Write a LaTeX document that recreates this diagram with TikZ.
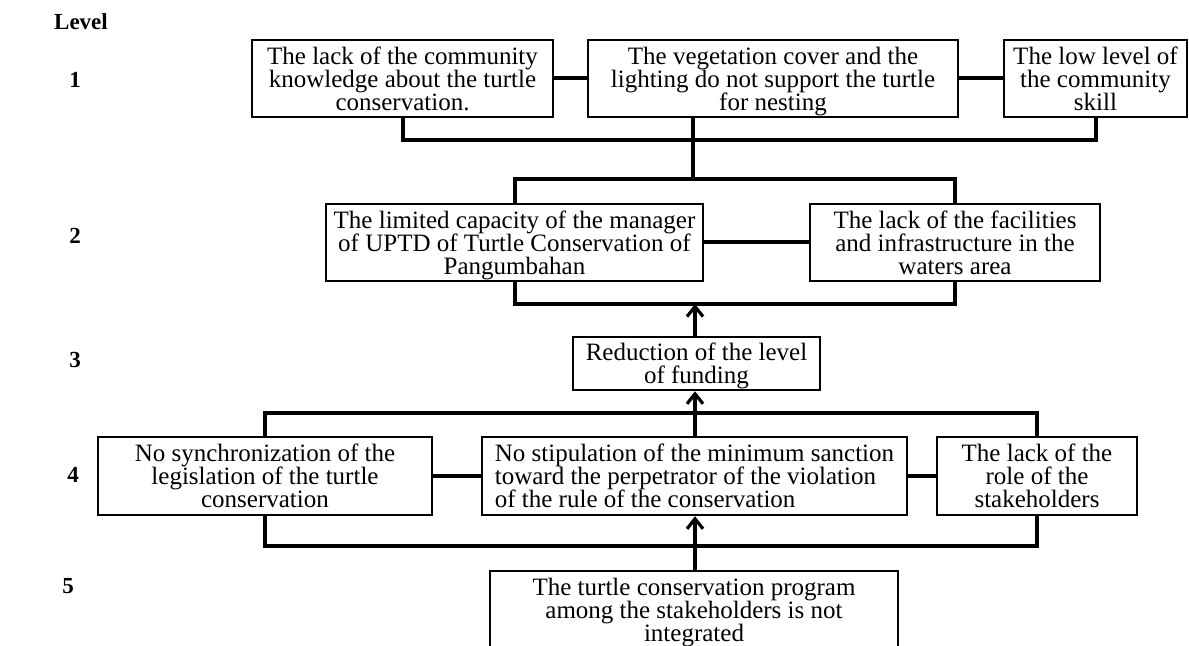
\documentclass[tikz,border=0pt]{standalone}
\usepackage{fontspec}
\setmainfont{Liberation Serif}
\usetikzlibrary{arrows.meta}

% fixed struts so every box places its lines at the same heights
\newcommand{\bxtop}{\rule{0pt}{12pt}}
\newcommand{\bxbot}{\rule[-3pt]{0pt}{3pt}}

\begin{document}
\begin{tikzpicture}[x=0.5pt,y=-0.5pt,
  box/.style={draw, line width=1.25pt, inner sep=0pt, align=center,
    font={\fontsize{12.5pt}{11.5pt}\selectfont}},
  wd/.style={minimum width=#1*0.5pt},
  ht/.style={minimum height=#1*0.5pt},
  link/.style={line width=2pt},
  uparrow/.style={line width=2pt, -{Straight Barb[length=5pt,width=8pt,line width=1.6pt]}},
  lvl/.style={font={\fontsize{11.5pt}{13pt}\selectfont\bfseries}}]

\useasboundingbox[fill=white] (0,0) rectangle (1189,646);

% level labels
\node[lvl] (lvlhead) at (81,22) {Level};
\node[lvl] (lv1) at (75,80) {1};
\node[lvl] (lv2) at (75,236) {2};
\node[lvl] (lv3) at (75,360) {3};
\node[lvl] (lv4) at (73,475) {4};
\node[lvl] (lv5) at (68,586) {5};

% level 1
\node[box, wd=301, ht=77] (A) at (402.5,78.5)
  {\bxtop The lack of the community\\knowledge about the turtle\\conservation.\bxbot};
\node[box, wd=370, ht=77] (B) at (773,78.5)
  {\bxtop The vegetation cover and the\\lighting do not support the turtle\\for nesting\bxbot};
\node[box, wd=183, ht=77] (C) at (1095.5,78.5)
  {\bxtop The low level of\\the community\\skill\bxbot};

% level 2
\node[box, wd=377, ht=77] (D) at (514.5,242.5)
  {\bxtop The limited capacity of the manager\\of UPTD of Turtle Conservation of\\Pangumbahan\bxbot};
\node[box, wd=290, ht=77] (E) at (955,242.5)
  {\bxtop The lack of the facilities\\and infrastructure in the\\waters area\bxbot};

% level 3
\node[box, wd=247, ht=53] (F) at (696.5,363.5)
  {\bxtop Reduction of the level\\of funding\bxbot};

% level 4
\node[box, wd=334, ht=78] (G) at (265,476)
  {\bxtop No synchronization of the\\legislation of the turtle\\conservation\bxbot};
\node[box, wd=425, ht=78, align=left] (H) at (694.5,476)
  {\bxtop No stipulation of the minimum sanction\\toward the perpetrator of the violation\\of the rule of the conservation\bxbot};
\node[box, wd=200, ht=78] (I) at (1037,476)
  {\bxtop The lack of the\\role of the\\stakeholders\bxbot};

% level 5
\node[box, wd=408, ht=77] (J) at (694,609.5)
  {\bxtop The turtle conservation program\\among the stakeholders is not\\integrated\bxbot};

% bus lines
\coordinate (bus1) at (693,140);
\coordinate (trunk1) at (693,179);
\coordinate (bus2) at (695,304);
\coordinate (bus4top) at (695,413);
\coordinate (bus4bot) at (695,546);

% level 1 links
\draw[link] (A) -- (B);
\draw[link] (B) -- (C);
\draw[link] (A.south) |- (bus1) -| (C.south);
\draw[link] (trunk1 |- B.south) -- (trunk1);

% level 2 links
\draw[link] (D.north) |- (trunk1) -| (E.north);
\draw[link] (D) -- (E);
\draw[link] (D.south) |- (bus2) -| (E.south);

% level 3 arrow
\draw[uparrow] (bus2 |- F.north) -- (bus2);

% level 4 links
\draw[link] (G.north) |- (bus4top) -| (I.north);
\draw[link] (G) -- (H);
\draw[link] (H) -- (I);
\draw[link] (G.south) |- (bus4bot) -| (I.south);
\draw[uparrow] (bus4top |- H.north) -- (bus4top |- F.south);

% level 5 arrow
\draw[uparrow] (bus4bot |- J.north) -- (bus4bot |- H.south);

\end{tikzpicture}
\end{document}
